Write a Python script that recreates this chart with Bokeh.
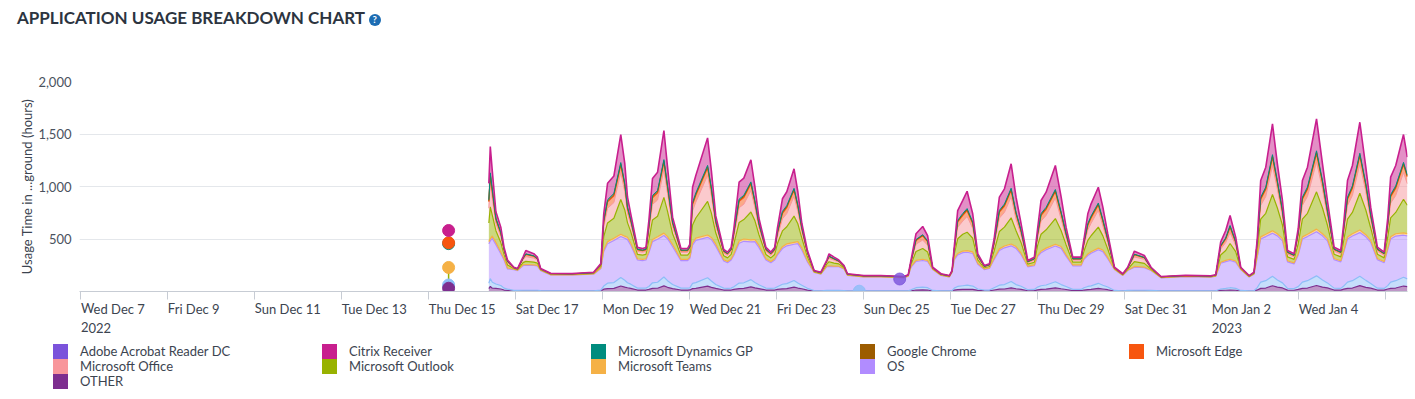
from bokeh.plotting import figure
from bokeh.layouts import column
from bokeh.models import (Range1d, FixedTicker, NumeralTickFormatter,
                          ColumnDataSource, Div, LinearAxis)
from bokeh.embed import file_html
from bokeh.resources import INLINE

FONT = "Lato"

# ---------------- data (hours since Fri Dec 16 2022 00:00) -------------
hours = [9.1, 9.9, 11.0, 13.0, 15.7, 17.5, 19.4, 22.9, 24.9, 28.0,
         29.5, 33.9, 35.9, 37.7, 43.2, 55.0, 66.9, 70.9, 72.5, 74.6,
         78.1, 81.9, 84.1, 85.6, 87.4, 91.1, 93.9, 95.8, 97.4, 99.4,
         102.2, 105.7, 107.7, 110.5, 115.1, 118.8, 120.0, 121.5, 123.3, 129.8,
         131.9, 134.3, 138.7, 140.8, 142.8, 144.3, 147.2, 149.8, 153.7, 155.9,
         158.1, 162.0, 164.7, 166.8, 168.3, 171.1, 173.5, 177.5, 179.6, 181.8,
         184.9, 188.6, 192.3, 195.6, 196.8, 199.6, 202.2, 205.1, 207.0, 216.0,
         225.4, 238.1, 240.5, 242.0, 244.8, 248.5, 251.2, 254.0, 258.6, 263.2,
         264.7, 265.9, 267.8, 270.6, 273.0, 276.1, 278.9, 282.5, 285.3, 287.9,
         290.8, 293.6, 297.3, 300.0, 302.8, 306.5, 310.1, 311.9, 313.8, 316.6,
         321.7, 324.9, 327.6, 331.3, 335.9, 337.5, 339.6, 341.4, 345.4, 347.9,
         350.6, 354.3, 358.9, 361.6, 365.3, 370.8, 374.5, 380.0, 393.6, 407.4,
         410.2, 412.9, 415.7, 418.1, 421.2, 424.0, 428.6, 431.3, 433.1, 435.0,
         437.8, 441.5, 444.2, 447.0, 449.8, 453.4, 455.7, 458.0, 460.8, 465.8,
         469.1, 471.8, 475.5, 479.2, 480.8, 482.9, 485.6, 489.7, 493.0, 495.7,
         499.4, 503.1, 505.1, 506.7, 509.5, 513.8, 515.9]

other = [28, 48, 31, 30, 24, 14, 10, 4, 4, 5,
         5, 5, 5, 4, 3, 3, 3, 6, 22, 28,
         30, 52, 42, 36, 30, 14, 14, 14, 20, 29,
         31, 54, 40, 28, 14, 14, 15, 27, 30, 51,
         39, 29, 14, 13, 14, 20, 28, 29, 44, 35,
         28, 14, 13, 14, 20, 25, 27, 41, 33, 26,
         13, 4, 3, 5, 5, 5, 5, 4, 3, 3,
         3, 3, 3, 6, 14, 16, 14, 4, 3, 3,
         4, 14, 18, 20, 20, 20, 10, 6, 6, 14,
         22, 24, 35, 26, 20, 7, 8, 16, 20, 22,
         35, 26, 19, 8, 8, 14, 18, 20, 30, 24,
         17, 4, 3, 4, 5, 5, 4, 3, 3, 3,
         3, 10, 12, 14, 12, 4, 3, 3, 15, 30,
         33, 55, 42, 34, 13, 12, 20, 30, 33, 57,
         42, 34, 14, 13, 22, 30, 33, 56, 40, 32,
         14, 13, 24, 30, 33, 52, 46]

blank = [51, 75, 57, 41, 33, 18, 13, 6, 6, 7,
         7, 7, 7, 5, 4, 4, 4, 8, 30, 51,
         55, 82, 65, 48, 40, 18, 18, 18, 28, 54,
         57, 84, 63, 38, 18, 18, 20, 50, 55, 80,
         61, 38, 18, 16, 18, 26, 52, 54, 69, 50,
         37, 18, 16, 18, 26, 44, 48, 64, 48, 34,
         17, 5, 4, 6, 6, 6, 6, 5, 4, 4,
         4, 4, 4, 9, 22, 25, 22, 6, 4, 4,
         5, 18, 30, 35, 40, 32, 14, 8, 8, 22,
         38, 42, 60, 40, 30, 10, 12, 26, 35, 40,
         58, 40, 28, 12, 12, 22, 30, 34, 48, 36,
         26, 6, 4, 6, 7, 7, 6, 4, 4, 4,
         4, 14, 18, 22, 18, 6, 4, 4, 22, 60,
         70, 90, 68, 48, 17, 16, 26, 60, 70, 92,
         68, 48, 18, 17, 30, 60, 70, 90, 66, 45,
         18, 16, 32, 60, 70, 84, 74]

os_ = [375, 359, 418, 375, 302, 268, 192, 199, 189, 235,
       238, 236, 232, 190, 150, 150, 158, 205, 330, 375,
       400, 390, 400, 410, 370, 268, 262, 268, 320, 392,
       410, 395, 400, 360, 262, 262, 280, 365, 402, 385,
       395, 365, 258, 245, 268, 300, 380, 395, 360, 390,
       355, 268, 245, 268, 300, 340, 360, 345, 375, 335,
       252, 172, 158, 225, 228, 225, 225, 205, 146, 131,
       131, 123, 138, 215, 250, 254, 250, 199, 146, 131,
       172, 270, 300, 315, 314, 310, 235, 195, 205, 270,
       330, 350, 340, 345, 300, 218, 225, 290, 315, 335,
       340, 345, 290, 225, 225, 270, 295, 310, 320, 320,
       270, 199, 146, 190, 220, 215, 190, 123, 134, 129,
       138, 245, 255, 259, 250, 199, 131, 158, 290, 410,
       420, 410, 420, 400, 252, 235, 300, 410, 420, 420,
       420, 400, 270, 252, 320, 410, 425, 415, 415, 390,
       270, 245, 340, 410, 425, 400, 410]

teams = [21, 20, 23, 22, 18, 12, 9, 3, 3, 6,
         7, 6, 5, 3, 2, 2, 2, 5, 15, 21,
         22, 22, 20, 22, 22, 12, 12, 12, 14, 21,
         23, 23, 20, 21, 12, 12, 13, 20, 22, 22,
         20, 21, 12, 11, 12, 13, 21, 22, 19, 20,
         21, 12, 11, 12, 13, 18, 19, 18, 19, 20,
         11, 3, 2, 5, 6, 5, 5, 3, 2, 2,
         2, 2, 2, 6, 10, 12, 10, 3, 2, 2,
         3, 12, 14, 15, 15, 15, 10, 5, 5, 10,
         16, 17, 17, 17, 15, 6, 8, 12, 15, 16,
         17, 17, 14, 8, 8, 10, 14, 15, 15, 15,
         12, 3, 2, 3, 7, 6, 3, 2, 2, 2,
         2, 9, 11, 12, 10, 3, 2, 2, 11, 20,
         22, 24, 20, 21, 11, 10, 13, 20, 22, 25,
         20, 21, 12, 11, 14, 20, 22, 24, 20, 20,
         12, 11, 15, 21, 22, 22, 21]

outlook = [178, 304, 199, 111, 90, 41, 29, 7, 7, 22,
           30, 26, 22, 6, 5, 4, 5, 15, 125, 178,
           190, 330, 250, 140, 108, 41, 40, 41, 110, 186,
           196, 340, 240, 103, 40, 40, 45, 171, 191, 320,
           232, 106, 38, 35, 41, 95, 177, 185, 265, 180,
           102, 41, 35, 41, 95, 150, 163, 250, 170, 94,
           37, 6, 5, 22, 38, 30, 22, 10, 5, 4,
           4, 4, 5, 22, 85, 103, 80, 7, 5, 4,
           6, 41, 140, 160, 176, 130, 32, 12, 14, 70,
           165, 180, 250, 150, 100, 20, 26, 95, 160, 175,
           245, 150, 95, 26, 26, 70, 130, 152, 200, 135,
           80, 7, 5, 9, 45, 35, 9, 4, 4, 4,
           5, 70, 95, 150, 90, 7, 4, 5, 65, 170,
           200, 345, 245, 130, 37, 33, 95, 170, 200, 355,
           245, 130, 41, 37, 100, 170, 203, 350, 235, 118,
           41, 35, 110, 180, 203, 320, 270]

office = [140, 235, 157, 71, 57, 29, 20, 4, 4, 28,
          45, 38, 28, 4, 3, 3, 4, 11, 95, 140,
          150, 255, 175, 90, 70, 29, 28, 29, 80, 147,
          155, 262, 170, 66, 28, 28, 31, 135, 151, 248,
          165, 67, 27, 25, 29, 68, 140, 146, 205, 125,
          65, 29, 25, 29, 68, 115, 125, 190, 118, 60,
          26, 4, 4, 17, 33, 27, 17, 8, 3, 3,
          3, 2, 3, 16, 70, 80, 65, 4, 3, 3,
          4, 29, 110, 125, 150, 95, 22, 8, 10, 50,
          128, 140, 200, 110, 70, 14, 20, 70, 125, 137,
          195, 110, 66, 20, 20, 50, 100, 118, 160, 95,
          58, 4, 3, 8, 45, 38, 8, 2, 3, 3,
          3, 55, 75, 105, 60, 4, 3, 4, 45, 130,
          160, 275, 180, 85, 26, 24, 68, 130, 160, 285,
          180, 85, 29, 26, 72, 130, 162, 278, 175, 77,
          29, 25, 80, 140, 162, 255, 205]

edge = [61, 69, 68, 35, 29, 16, 12, 3, 2, 12,
        22, 18, 12, 3, 3, 2, 3, 7, 45, 61,
        65, 75, 60, 44, 34, 16, 16, 16, 40, 64,
        67, 76, 58, 33, 16, 16, 18, 59, 65, 73,
        56, 34, 15, 14, 16, 32, 62, 64, 63, 48,
        33, 16, 14, 16, 32, 53, 57, 58, 46, 30,
        15, 2, 3, 9, 17, 12, 9, 5, 2, 2,
        2, 2, 2, 9, 35, 40, 33, 3, 2, 2,
        2, 16, 50, 55, 55, 45, 14, 5, 6, 25,
        56, 60, 62, 50, 35, 8, 11, 33, 55, 58,
        62, 50, 33, 11, 11, 25, 45, 52, 52, 45,
        30, 3, 2, 4, 22, 15, 4, 2, 2, 2,
        2, 27, 35, 50, 28, 3, 2, 3, 22, 58,
        68, 80, 60, 42, 15, 13, 32, 58, 68, 82,
        60, 42, 16, 15, 35, 58, 69, 80, 58, 38,
        16, 14, 38, 62, 69, 75, 65]

chrome = [9, 9, 10, 7, 6, 2, 2, 0, 0, 1,
          2, 2, 1, 0, 0, 0, 0, 1, 7, 9,
          10, 10, 9, 8, 7, 2, 2, 2, 6, 10,
          10, 10, 9, 6, 2, 2, 2, 9, 10, 10,
          9, 7, 2, 2, 2, 5, 9, 10, 9, 8,
          6, 2, 2, 2, 5, 8, 9, 8, 8, 6,
          2, 0, 0, 1, 2, 1, 1, 0, 0, 0,
          0, 0, 0, 1, 4, 5, 4, 0, 0, 0,
          0, 2, 7, 8, 8, 7, 2, 1, 1, 4,
          8, 9, 9, 8, 6, 1, 1, 5, 8, 9,
          9, 8, 5, 1, 1, 4, 7, 8, 8, 7,
          5, 0, 0, 0, 2, 2, 0, 0, 0, 0,
          0, 3, 4, 8, 4, 0, 0, 0, 4, 9,
          10, 11, 9, 7, 2, 2, 5, 9, 10, 11,
          9, 7, 2, 2, 6, 9, 10, 11, 9, 6,
          2, 2, 6, 9, 10, 10, 9]

dynamics = [11, 11, 13, 6, 5, 2, 1, 0, 0, 1,
            2, 2, 1, 0, 0, 0, 0, 1, 8, 11,
            12, 12, 10, 8, 6, 2, 2, 2, 6, 12,
            12, 12, 10, 6, 2, 2, 2, 11, 12, 12,
            10, 6, 2, 1, 2, 5, 11, 11, 10, 9,
            6, 2, 1, 2, 5, 10, 10, 9, 8, 5,
            2, 0, 0, 1, 2, 1, 1, 0, 0, 0,
            0, 0, 0, 1, 5, 6, 5, 0, 0, 0,
            0, 2, 8, 10, 12, 8, 1, 0, 0, 5,
            10, 11, 11, 9, 6, 1, 1, 6, 10, 10,
            11, 9, 6, 1, 1, 5, 8, 9, 10, 8,
            5, 0, 0, 0, 2, 1, 0, 0, 0, 0,
            0, 4, 5, 9, 5, 0, 0, 0, 4, 11,
            12, 13, 10, 7, 2, 1, 5, 11, 12, 13,
            10, 7, 2, 2, 6, 11, 12, 13, 10, 6,
            2, 1, 6, 11, 12, 12, 11]

citrix = [156, 250, 174, 62, 48, 18, 12, 5, 4, 13,
          32, 20, 14, 4, 4, 4, 5, 8, 63, 156,
          166, 267, 189, 94, 53, 18, 16, 18, 52, 161,
          175, 277, 174, 47, 16, 16, 24, 146, 167, 262,
          163, 47, 14, 13, 18, 36, 161, 164, 210, 135,
          47, 18, 13, 18, 36, 120, 132, 185, 125, 40,
          15, 4, 5, 9, 22, 15, 9, 8, 4, 3,
          3, 3, 3, 10, 55, 78, 50, 5, 4, 3,
          4, 18, 94, 124, 165, 78, 19, 8, 9, 30,
          125, 145, 232, 143, 63, 10, 15, 47, 124, 144,
          228, 143, 56, 15, 15, 30, 93, 117, 150, 118,
          47, 5, 4, 7, 29, 19, 7, 3, 3, 3,
          3, 33, 71, 95, 40, 5, 3, 5, 22, 159,
          189, 294, 162, 93, 15, 13, 36, 159, 189, 305,
          162, 93, 18, 15, 45, 159, 194, 295, 156, 71,
          18, 13, 49, 166, 194, 265, 169]

# isolated points (stacked level) on Thu Dec 15 and around Sun Dec 25
dec15_hour = -13.1
dec15_series = ["blank", "other", "teams", "dynamics", "edge", "citrix"]
dec15_level = [62, 31, 229, 456, 464, 581]
dec25_hours = [213.5, 235.8]
dec25_series = ["blank", "adobe"]
dec25_level = [3, 119]

# x-axis ticks: days since Wed Dec 7 2022
tick_days = [0, 2, 4, 6, 8, 10, 12, 14, 16, 18, 20, 22, 24, 26, 28, 30]
tick_labels = ["Wed Dec 7", "Fri Dec 9", "Sun Dec 11", "Tue Dec 13", "Thu Dec 15",
               "Sat Dec 17", "Mon Dec 19", "Wed Dec 21", "Fri Dec 23", "Sun Dec 25",
               "Tue Dec 27", "Thu Dec 29", "Sat Dec 31", "Mon Jan 2", "Wed Jan 4", ""]
year_labels = {0: "2022", 26: "2023"}
y_ticks = [500, 1000, 1500, 2000]

# ---------------- styling -------------------------------------------------------------
COL = {
    "adobe": "#7b53db", "citrix": "#c81f8e", "dynamics": "#008c7e",
    "chrome": "#9c5c00", "edge": "#f7560f", "office": "#f8969b",
    "outlook": "#98b200", "teams": "#f5b146", "os": "#b18cff",
    "other": "#7d2e8f", "blank": "#8dbdf7",
}
stack_keys = ["other", "blank", "os", "teams", "outlook", "office", "edge",
              "chrome", "dynamics", "citrix"]
stack_data = [other, blank, os_, teams, outlook, office, edge, chrome, dynamics, citrix]
line_widths = [1.2, 1.2, 1.2, 1.2, 1.2, 1.0, 1.2, 1.0, 1.0, 1.6]

n = len(hours)
for arr in stack_data:
    assert len(arr) == n, (len(arr), n)

x_days = [9 + h / 24 for h in hours]
src = ColumnDataSource(dict(x=x_days, **{k: v for k, v in zip(stack_keys, stack_data)}))

W = 1408
HEADER_H = 40
MAIN_H = 301          # frame: page y 81 .. 291
LEG_H = 399 - HEADER_H - MAIN_H

p = figure(width=W, height=MAIN_H,
           x_range=Range1d(-0.032, 30.5), y_range=Range1d(0, 2000),
           output_backend="svg", toolbar_location=None,
           min_border_left=79, min_border_right=1, min_border_top=81 - HEADER_H,
           min_border_bottom=MAIN_H - (81 - HEADER_H) - 210)
p.outline_line_color = None
p.background_fill_color = "white"
p.border_fill_color = "white"

p.varea_stack(stack_keys, x="x", source=src,
              color=[COL[k] for k in stack_keys], fill_alpha=0.5)
p.vline_stack(stack_keys, x="x", source=src,
              color=[COL[k] for k in stack_keys], line_width=line_widths)

# isolated markers
xd15 = 9 + dec15_hour / 24
p.segment(x0=[xd15], y0=[dec15_level[0]], x1=[xd15], y1=[dec15_level[2]],
          color=COL["outlook"], line_width=1.5)
p.scatter(x=[xd15] * len(dec15_level), y=dec15_level,
          color=[COL[k] for k in dec15_series], size=12)
p.scatter(x=[9 + h / 24 for h in dec25_hours], y=dec25_level,
          color=[COL[k] for k in dec25_series], size=12, alpha=0.8)

# axes
def style_x(ax):
    ax.ticker = FixedTicker(ticks=tick_days)
    ax.minor_tick_line_color = None
    ax.major_label_text_font = FONT
    ax.major_label_text_font_size = "13px"
    ax.major_label_text_color = "#3c4450"
    ax.major_label_orientation = -0.0001   # near-horizontal: labels start at their tick

xa = p.xaxis[0]
style_x(xa)
xa.major_label_overrides = {d: lab for d, lab in zip(tick_days, tick_labels)}
xa.axis_line_color = "#c7ccd4"
xa.major_tick_line_color = "#c7ccd4"
xa.major_tick_in = 0
xa.major_tick_out = 8
xa.major_label_standoff = 9

xa2 = LinearAxis()
style_x(xa2)
xa2.major_label_overrides = {d: year_labels.get(d, "") for d in tick_days}
xa2.axis_line_color = None
xa2.major_tick_line_color = None
xa2.major_tick_in = 0
xa2.major_tick_out = 0
xa2.major_label_standoff = 0
p.add_layout(xa2, "below")

ya = p.yaxis[0]
ya.ticker = FixedTicker(ticks=y_ticks)
ya.formatter = NumeralTickFormatter(format="0,0")
ya.axis_line_color = None
ya.major_tick_line_color = None
ya.minor_tick_line_color = None
ya.major_label_text_font = FONT
ya.major_label_text_font_size = "13px"
ya.major_label_text_color = "#4a525e"
ya.major_label_standoff = 2
ya.axis_label = "Usage Time in ...ground (hours)"
ya.axis_label_text_font = FONT
ya.axis_label_text_font_size = "13px"
ya.axis_label_text_font_style = "normal"
ya.axis_label_text_color = "#3c4450"
ya.axis_label_standoff = 0

p.xgrid.visible = False
p.ygrid.grid_line_color = "#e4e7eb"
p.ygrid.grid_line_width = 1

# legend strip (5 columns, row-major; one unnamed slot)
legend_order = [("adobe", "Adobe Acrobat Reader DC"), ("citrix", "Citrix Receiver"),
                ("dynamics", "Microsoft Dynamics GP"), ("chrome", "Google Chrome"),
                ("edge", "Microsoft Edge"), ("office", "Microsoft Office"),
                ("outlook", "Microsoft Outlook"), ("teams", "Microsoft Teams"),
                ("os", "OS"), ("blank", ""), ("other", "OTHER")]
parts = ['<div style="position:relative;width:%dpx;height:%dpx;font-family:Lato;'
         'font-size:13px;color:#3c4450;">' % (W, LEG_H)]
for i, (key, lab) in enumerate(legend_order):
    row, col = divmod(i, 5)
    left = 53 + 269 * col
    top = 2.5 + 15 * row
    if not lab:
        continue
    parts.append('<div style="position:absolute;left:%dpx;top:%.1fpx;width:15px;'
                 'height:15px;background:%s;"></div>' % (left, top, COL[key]))
    parts.append('<div style="position:absolute;left:%dpx;top:%.1fpx;height:15px;'
                 'line-height:15px;white-space:nowrap;">%s</div>' % (left + 27, top, lab))
parts.append('</div>')
legend_div = Div(text="".join(parts), width=W, height=LEG_H, margin=0)

# header: title + help icon
header = Div(
    text=('<div style="font-family:Lato;font-weight:bold;font-size:17px;'
          'color:#2c3440;line-height:20px;padding:8px 0 0 17px;white-space:nowrap;">'
          'APPLICATION USAGE BREAKDOWN CHART '
          '<span style="display:inline-block;width:12px;height:12px;border-radius:6px;'
          'background:#1c6cb3;color:white;font-size:9.5px;line-height:12px;'
          'text-align:center;vertical-align:1px;">?</span></div>'),
    width=W, height=HEADER_H, margin=0)

layout = column(header, p, legend_div, spacing=0, margin=0)
open("out.html", "w").write(file_html(layout, INLINE))
